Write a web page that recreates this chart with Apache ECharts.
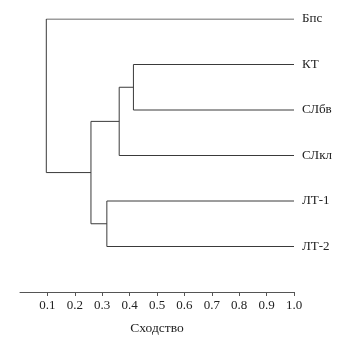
<!DOCTYPE html>
<html><head><meta charset="utf-8">
<script src="https://cdn.jsdelivr.net/npm/echarts@6/dist/echarts.min.js"></script>
<style>html,body{margin:0;padding:0;background:#fff}#c{width:353px;height:343px}</style>
</head><body><div id="c"></div>
<script>
// Leaves, top to bottom
const leaves = ['Бпс', 'КТ', 'СЛбв', 'СЛкл', 'ЛТ-1', 'ЛТ-2'];
const leafSimilarity = 1.0;
// Merges: [child A, child B, similarity]; node ids 0-5 are leaves, 6+ are merges in order
const mergeA = [1, 6, 4, 7, 0];
const mergeB = [2, 3, 5, 8, 9];
const mergeSim = [0.414, 0.362, 0.317, 0.259, 0.096];
const xTicks = [0.1, 0.2, 0.3, 0.4, 0.5, 0.6, 0.7, 0.8, 0.9, 1.0];

const nodeY = leaves.map((_, i) => i);
const nodeH = leaves.map(() => leafSimilarity);
const series = [];
for (let k = 0; k < mergeSim.length; k++) {
  const a = mergeA[k], b = mergeB[k], h = mergeSim[k];
  series.push({
    type: 'line', showSymbol: false, silent: true, animation: false,
    lineStyle: { color: '#3a3a3a', width: 1 },
    data: [[nodeH[a], nodeY[a]], [h, nodeY[a]], [h, nodeY[b]], [nodeH[b], nodeY[b]]]
  });
  nodeY.push((nodeY[a] + nodeY[b]) / 2);
  nodeH.push(h);
}

const font = '"Liberation Serif", "Times New Roman", serif';
const chart = echarts.init(document.getElementById('c'));
chart.setOption({
  animation: false,
  grid: { left: 20, right: 59, top: 19, bottom: 51 },
  xAxis: {
    type: 'value', min: 0, max: 1, interval: 0.1, position: 'bottom',
    name: 'Сходство', nameLocation: 'middle', nameGap: 29,
    nameTextStyle: { color: '#222', fontFamily: font, fontSize: 13.5 },
    axisLine: { show: true, onZero: false, lineStyle: { color: '#555', width: 1 } },
    axisTick: { show: true, length: 4, customValues: xTicks, lineStyle: { color: '#555' } },
    axisLabel: { customValues: xTicks, color: '#222', fontFamily: font, fontSize: 13, margin: 7,
      formatter: v => v.toFixed(1) },
    splitLine: { show: false }
  },
  yAxis: {
    type: 'value', min: 0, max: 6, interval: 1, inverse: true, position: 'right',
    axisLine: { show: false }, axisTick: { show: false }, splitLine: { show: false },
    axisLabel: { color: '#222', fontFamily: font, fontSize: 13, margin: 8,
      formatter: v => (leaves[v] !== undefined ? leaves[v] : '') }
  },
  series: series
});
</script></body></html>
